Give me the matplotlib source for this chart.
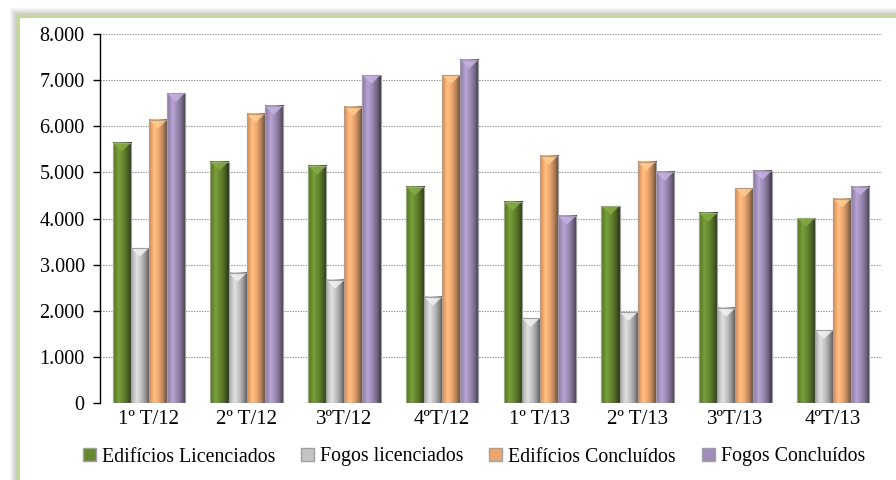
import numpy as np
import matplotlib
matplotlib.use("Agg")
import matplotlib.pyplot as plt
from matplotlib.patches import Rectangle, Patch, Polygon
from matplotlib.ticker import FuncFormatter, MultipleLocator

plt.rcParams['font.family'] = ['Liberation Serif', 'DejaVu Serif']

# quarters and series values
quarters = ['1º T/12', '2º T/12', '3ºT/12', '4ºT/12',
            '1º T/13', '2º T/13', '3ºT/13', '4ºT/13']
edif_licenciados = [5640, 5230, 5140, 4690, 4360, 4270, 4120, 4010]
fogos_licenciados = [3360, 2820, 2670, 2300, 1840, 1970, 2060, 1580]
edif_concluidos = [6140, 6270, 6420, 7110, 5360, 5230, 4660, 4430]
fogos_concluidos = [6720, 6440, 7110, 7440, 4060, 5010, 5030, 4690]

series = [
    ('Edifícios Licenciados', edif_licenciados, '#66882e'),
    ('Fogos licenciados', fogos_licenciados, '#c4c4c4'),
    ('Edifícios Concluídos', edif_concluidos, '#eca66e'),
    ('Fogos Concluídos', fogos_concluidos, '#a08db9'),
]

fig = plt.figure(figsize=(8.96, 4.8), dpi=100)

# framed panel with a soft shadow on top/left
W, H = 896, 480
for i in range(8):
    off = 8 - i
    fig.patches.append(Rectangle((18 - off, -20), W, H - 16 + off + 20,
                                 transform=None, facecolor='#707070',
                                 edgecolor='none', alpha=0.06, zorder=-3))
fig.patches.append(Rectangle((18 / W, -0.1), 1.0, (H - 16) / H + 0.1,
                             transform=fig.transFigure, facecolor='white',
                             edgecolor='#c3d89a', linewidth=2.2, zorder=-2))

ax = fig.add_axes([100 / W, 77 / H, 782 / W, 369 / H])
ax.set_facecolor('none')

x = np.arange(len(quarters))
bw = 0.185

# horizontal shading profile giving the bars a rounded look
prof_t = np.array([0.0, 0.08, 0.3, 0.55, 0.8, 0.93, 1.0])
prof_v = np.array([0.70, 0.95, 1.10, 0.98, 0.72, 0.50, 0.40])
tt = np.linspace(0, 1, 64)
shade = np.interp(tt, prof_t, prof_v)


def shaded(color):
    rgb = np.array(matplotlib.colors.to_rgb(color))
    img = np.clip(rgb[None, :] * shade[:, None], 0, 1)
    hi = np.clip(shade - 1.0, 0, None)[:, None]
    img = np.clip(img + hi * 0.4, 0, 1)
    return img[None, :, :]


for k, (name, vals, col) in enumerate(series):
    xs = x + (k - 1.5) * bw
    bars = ax.bar(xs, vals, width=bw, color=col, edgecolor='#a8a8a8',
                  linewidth=0.8, zorder=2)
    img = shaded(col)
    light = np.clip(np.array(matplotlib.colors.to_rgb(col)) * 1.15 + 0.06, 0, 1)
    for b in bars:
        x0, w, h = b.get_x(), b.get_width(), b.get_height()
        ax.imshow(img, extent=[x0, x0 + w, 0, h], aspect='auto',
                  interpolation='bilinear', zorder=3)
        ax.add_patch(Polygon([[x0, h], [x0 + w, h], [x0 + w / 2, h - 190]],
                             closed=True, facecolor=light, edgecolor='none',
                             alpha=0.85, zorder=4))
        ax.add_patch(Rectangle((x0, 0), w, h, fill=False, edgecolor='#a0a0a0',
                               linewidth=0.8, zorder=5))

ax.set_xlim(-0.5, len(quarters) - 0.5)
ax.set_ylim(0, 8000)
ax.yaxis.set_major_locator(MultipleLocator(1000))
ax.yaxis.set_major_formatter(FuncFormatter(
    lambda v, p: f'{int(v):,}'.replace(',', '.')))
ax.grid(axis='y', color='#909090', linestyle=(0, (1.2, 1.2)), linewidth=0.8,
        zorder=0)
ax.set_axisbelow(True)
ax.set_xticks(x)
ax.set_xticklabels(quarters)
ax.tick_params(axis='x', length=0, pad=5, labelsize=15)
ax.tick_params(axis='y', length=5, width=1, direction='out', pad=6,
               labelsize=14.5)
for s in ['top', 'right', 'bottom']:
    ax.spines[s].set_visible(False)
ax.spines['left'].set_color('black')
ax.spines['left'].set_linewidth(1)

handles = [Patch(facecolor=c, edgecolor='#a0a0a0', label=n) for n, _, c in series]
leg = fig.legend(handles=handles, loc='center',
                 bbox_to_anchor=(0.529, 1 - 457 / H),
                 ncol=4, frameon=False, fontsize=14.3, handlelength=0.65,
                 handleheight=0.65, handletextpad=0.3, columnspacing=1.3)

fig.savefig('out.png', dpi=100)
